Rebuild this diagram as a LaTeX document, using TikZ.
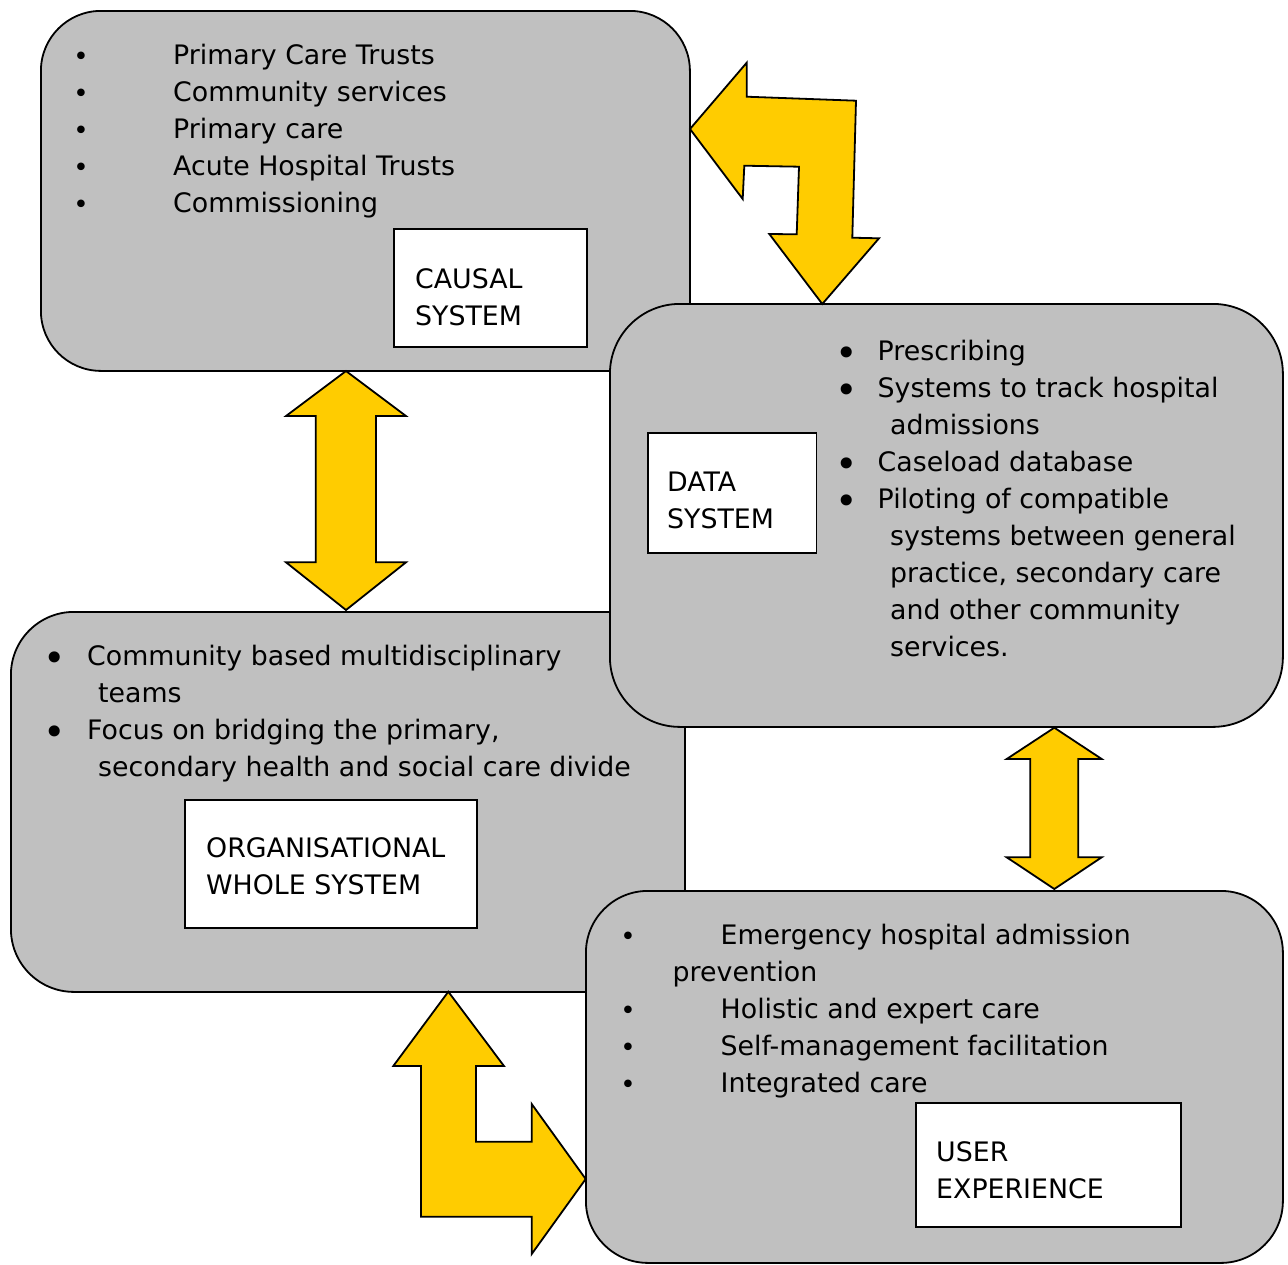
\documentclass[tikz,border=0pt]{standalone}
\usepackage{fontspec}
\setmainfont{DejaVu Sans}
\definecolor{boxgray}{HTML}{C0C0C0}
\definecolor{arrowyellow}{HTML}{FFCC00}
\begin{document}
\begin{tikzpicture}[x=1pt,y=-1pt,
  panel/.style={draw=black, line width=1.8pt, fill=boxgray, anchor=north west, inner sep=0pt},
  labelbox/.style={draw=black, line width=1.8pt, fill=white, anchor=north west, inner sep=0pt},
  bigarrow/.style={draw=black, line width=1.8pt, fill=arrowyellow, line join=miter},
  txt/.style={anchor=base west, inner sep=0pt, font=\fontsize{26.8}{37}\selectfont},
  sbul/.style={anchor=base, inner sep=0pt, font=\fontsize{26}{26}\selectfont},
  bbul/.style={anchor=base, inner sep=0pt, font=\fontsize{38}{38}\selectfont}]
\useasboundingbox (0,0) rectangle (1288,1264);
\fill[white] (0,0) rectangle (1288,1264);

% panels
\node[panel, rounded corners=60pt, minimum width=649pt, minimum height=360pt] (causal) at (40,10) {};
\node[panel, rounded corners=63pt, minimum width=674pt, minimum height=380pt] (org) at (10,611) {};
\node[panel, rounded corners=70pt, minimum width=673pt, minimum height=423pt] (data) at (609,303) {};
\node[panel, rounded corners=62pt, minimum width=697pt, minimum height=372pt] (user) at (585,890) {};

% label boxes
\node[labelbox, minimum width=193pt, minimum height=118pt] (causallbl) at (393,228) {};
\node[labelbox, minimum width=168.5pt, minimum height=120pt] (datalbl) at (647,432) {};
\node[labelbox, minimum width=292pt, minimum height=128pt] (orglbl) at (184,799) {};
\node[labelbox, minimum width=265pt, minimum height=124pt] (userlbl) at (915,1102) {};

\node[txt] (cl1) at (415,288) {CAUSAL};
\node[txt] (cl2) at (415,325) {SYSTEM};
\node[txt] (dl1) at (667,491) {DATA};
\node[txt] (dl2) at (667,528) {SYSTEM};
\node[txt] (ol1) at (206,857) {ORGANISATIONAL};
\node[txt] (ol2) at (206,894) {WHOLE SYSTEM};
\node[txt] (ul1) at (936,1161) {USER};
\node[txt] (ul2) at (936,1198) {EXPERIENCE};

% causal list
\node[sbul] (cb1) at (81,65) {•};
\node[sbul] (cb2) at (81,102) {•};
\node[sbul] (cb3) at (81,139) {•};
\node[sbul] (cb4) at (81,176) {•};
\node[sbul] (cb5) at (81,213) {•};
\node[txt] (ct1) at (173,64) {Primary Care Trusts};
\node[txt] (ct2) at (173,101) {Community services};
\node[txt] (ct3) at (173,138) {Primary care};
\node[txt] (ct4) at (173,175) {Acute Hospital Trusts};
\node[txt] (ct5) at (173,212) {Commissioning};

% data list
\node[bbul] (db1) at (847,366.4) {•};
\node[bbul] (db2) at (847,403.5) {•};
\node[bbul] (db3) at (847,477.7) {•};
\node[bbul] (db4) at (847,514.8) {•};
\node[txt] (dt1) at (877.5,360) {Prescribing};
\node[txt] (dt2) at (877.5,397) {Systems to track hospital};
\node[txt] (dt3) at (890,434) {admissions};
\node[txt] (dt4) at (877.5,471.3) {Caseload database};
\node[txt] (dt5) at (877.5,508.4) {Piloting of compatible};
\node[txt] (dt6) at (890,545.5) {systems between general};
\node[txt] (dt7) at (890,582.6) {practice, secondary care};
\node[txt] (dt8) at (890,619.7) {and other community};
\node[txt] (dt9) at (890,656.8) {services.};

% organisational list
\node[bbul] (ob1) at (55,671.4) {•};
\node[bbul] (ob2) at (55,745.9) {•};
\node[txt] (ot1) at (87,665) {Community based multidisciplinary};
\node[txt] (ot2) at (98,702) {teams};
\node[txt] (ot3) at (87,739.5) {Focus on bridging the primary,};
\node[txt] (ot4) at (98,776.5) {secondary health and social care divide};

% user list
\node[sbul] (ub1) at (628,945.5) {•};
\node[sbul] (ub2) at (628,1019.5) {•};
\node[sbul] (ub3) at (628,1056.5) {•};
\node[sbul] (ub4) at (628,1093.5) {•};
\node[txt] (ut1) at (720.5,944.5) {Emergency hospital admission};
\node[txt] (ut2) at (672.5,981.5) {prevention};
\node[txt] (ut3) at (720.5,1018.5) {Holistic and expert care};
\node[txt] (ut4) at (720.5,1055.5) {Self-management facilitation};
\node[txt] (ut5) at (720.5,1092.5) {Integrated care};

% block arrows
\draw[bigarrow] (690,129) -- (746.7,62.7) -- (746.7,96.7) -- (856,100.7) -- (852.3,237.7)
  -- (879,238.3) -- (822.3,304) -- (769.3,234) -- (796.7,234.3) -- (799,166.7)
  -- (744.3,165.7) -- (742.7,199) -- cycle;
\draw[bigarrow] (346,371) -- (406,416) -- (376,416) -- (376,562.3) -- (406,562.3)
  -- (346,610) -- (286,562.3) -- (315.7,562.3) -- (315.7,416) -- (286,416) -- cycle;
\draw[bigarrow] (1054.3,727.7) -- (1101.7,759) -- (1078.3,759) -- (1078.3,857.3)
  -- (1101.7,857.3) -- (1054.3,889) -- (1006.7,857.3) -- (1030.2,857.3) -- (1030.2,759)
  -- (1006.7,759) -- cycle;
\draw[bigarrow] (448.3,991.7) -- (504,1066) -- (476,1066) -- (476,1141.7) -- (531.7,1141.7)
  -- (531.7,1104) -- (585.7,1179) -- (531.7,1254) -- (531.7,1216.7) -- (421,1216.7)
  -- (421,1066) -- (393.3,1066) -- cycle;
\end{tikzpicture}
\end{document}
